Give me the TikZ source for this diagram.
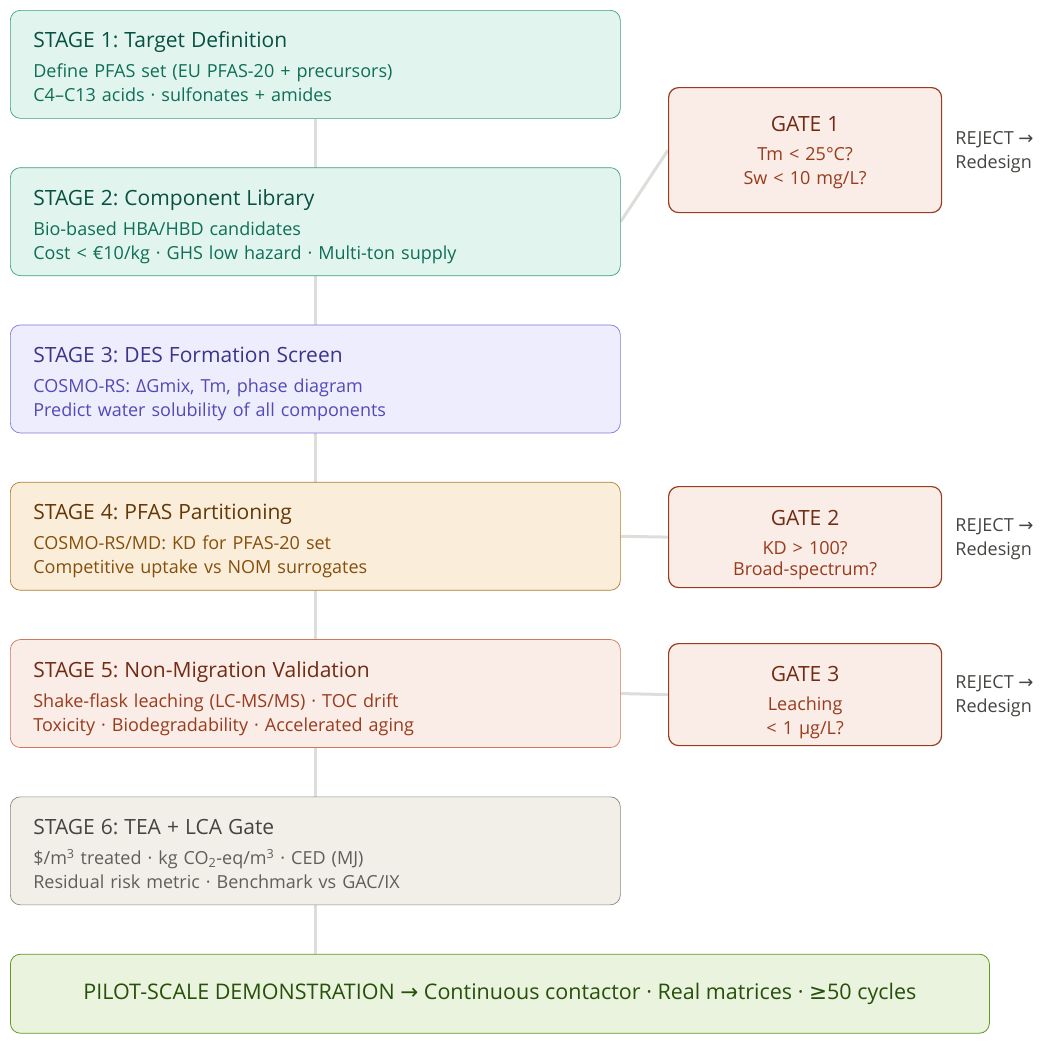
\documentclass[tikz,border=0pt]{standalone}
\usepackage{fontspec}
\setmainfont{Open Sans}
\newfontfamily\symfont{DejaVu Sans}
\usetikzlibrary{positioning,backgrounds}
\frenchspacing
\definecolor{tealfill}{HTML}{E1F5EE}
\definecolor{tealline}{HTML}{3E9E7E}
\definecolor{tealhead}{HTML}{085041}
\definecolor{tealtext}{HTML}{0F6E56}
\definecolor{purpfill}{HTML}{EEEDFE}
\definecolor{purpline}{HTML}{7F77DD}
\definecolor{purphead}{HTML}{3C3489}
\definecolor{purptext}{HTML}{534AB7}
\definecolor{ambfill}{HTML}{FAEEDA}
\definecolor{ambline}{HTML}{B07A30}
\definecolor{ambhead}{HTML}{633806}
\definecolor{ambtext}{HTML}{854F0B}
\definecolor{corfill}{HTML}{FAECE7}
\definecolor{corline}{HTML}{D0775C}
\definecolor{corhead}{HTML}{712B13}
\definecolor{cortext}{HTML}{993C1D}
\definecolor{grayfill}{HTML}{F1EFE8}
\definecolor{grayline}{HTML}{888780}
\definecolor{grayhead}{HTML}{444441}
\definecolor{graytext}{HTML}{5F5E5A}
\definecolor{grnfill}{HTML}{EAF3DE}
\definecolor{grnline}{HTML}{639922}
\definecolor{grnhead}{HTML}{27500A}
\definecolor{spinegray}{HTML}{DDDDDA}
\newcommand{\headfont}{\fontsize{21}{24}\selectfont}
\newcommand{\bodyfont}{\fontsize{18}{24}\selectfont}
\newcommand{\ra}{{\symfont\char"2192}}
\newcommand{\atleast}{{\symfont\char"2265}}
\tikzset{
  stage/.style={
    draw,
    line width=0.7pt,
    rounded corners=10pt,
    align=left,
    text width=564pt,
    inner xsep=23pt,
    inner ysep=0pt,
    text height=25pt,
    text depth=58pt,
    minimum height=108pt,
    font=\bodyfont
  },
  target/.style={stage, fill=tealfill, draw=tealline, text=tealtext},
  library/.style={stage, fill=tealfill, draw=tealline, text=tealtext},
  formation/.style={stage, fill=purpfill, draw=purpline, text=purptext},
  partition/.style={stage, fill=ambfill, draw=ambline, text=ambtext},
  migration/.style={stage, fill=corfill, draw=corline, text=cortext},
  costing/.style={stage, fill=grayfill, draw=grayline, text=graytext},
  gate/.style={
    draw=cortext,
    fill=corfill,
    text=cortext,
    line width=1.2pt,
    rounded corners=10pt,
    align=center,
    text width=273pt,
    inner xsep=0pt,
    inner ysep=0pt,
    font=\bodyfont
  },
  pilotbox/.style={
    draw=grnline,
    fill=grnfill,
    text=grnhead,
    line width=0.8pt,
    rounded corners=10pt,
    minimum width=979pt,
    minimum height=79pt,
    font=\fontsize{21.5}{24}\selectfont
  },
  reject/.style={
    anchor=west,
    align=left,
    text=grayhead,
    inner sep=0pt,
    yshift=-2pt,
    font=\bodyfont
  },
  spine/.style={draw=spinegray, line width=3pt},
  link/.style={draw=spinegray, line width=3pt}
}

\begin{document}
\begin{tikzpicture}[x=1pt, y=-1pt, node distance=48.6pt]
\useasboundingbox (0,0) rectangle (1042,1044);

% Stage column
\node[target, anchor=north west] (target) at (10,10)
  {{\color{tealhead}\headfont STAGE 1: Target Definition}\\[6pt]
   Define PFAS set (EU PFAS-20 + precursors)\\
   C4–C13 acids · sulfonates + amides};
\node[library, below=of target] (library)
  {{\color{tealhead}\headfont STAGE 2: Component Library}\\[6pt]
   Bio-based HBA/HBD candidates\\
   Cost < €10/kg · GHS low hazard · Multi-ton supply};
\node[formation, below=of library] (formation)
  {{\color{purphead}\headfont STAGE 3: DES Formation Screen}\\[6pt]
   COSMO-RS: ΔGmix, Tm, phase diagram\\
   Predict water solubility of all components};
\node[partition, below=of formation] (partition)
  {{\color{ambhead}\headfont STAGE 4: PFAS Partitioning}\\[6pt]
   COSMO-RS/MD: KD for PFAS-20 set\\
   Competitive uptake vs NOM surrogates};
\node[migration, below=of partition] (migration)
  {{\color{corhead}\headfont STAGE 5: Non-Migration Validation}\\[6pt]
   Shake-flask leaching (LC-MS/MS) · TOC drift\\
   Toxicity · Biodegradability · Accelerated aging};
\node[costing, below=of migration] (costing)
  {{\color{grayhead}\headfont STAGE 6: TEA + LCA Gate}\\[6pt]
   \$/m\textsuperscript{3} treated · kg CO\textsubscript{2}-eq/m\textsuperscript{3} · CED (MJ)\\
   Residual risk metric · Benchmark vs GAC/IX};
\node[pilotbox, below=of costing.south west, anchor=north west] (pilot)
  {PILOT-SCALE DEMONSTRATION \ra{} Continuous contactor · Real matrices · \atleast50 cycles};

% Gates
\node[gate, anchor=north west, minimum height=125pt, text height=20pt, text depth=58pt] (gateone) at (668,87)
  {{\color{corhead}\headfont GATE 1}\\[5pt]
   Tm < 25°C?\\
   Sw < 10 mg/L?};
\node[gate, anchor=north west, minimum height=101pt, text height=30pt, text depth=54pt] (gatetwo) at (668,486)
  {{\color{corhead}\headfont GATE 2}\\[5pt]
   KD > 100?\\[-3pt]
   Broad-spectrum?};
\node[gate, anchor=north west, minimum height=102pt, text height=30pt, text depth=57pt] (gatethree) at (668,643)
  {{\color{corhead}\headfont GATE 3}\\[5pt]
   Leaching\\
   < 1 µg/L?};

\node[reject, right=13pt of gateone.east] (rejectone) {REJECT \ra\\Redesign};
\node[reject, right=13pt of gatetwo.east] (rejecttwo) {REJECT \ra\\Redesign};
\node[reject, right=13pt of gatethree.east] (rejectthree) {REJECT \ra\\Redesign};

\begin{scope}[on background layer]
\draw[spine] (target.south) -- (target.south |- pilot.north);
\draw[link] (library.east) -- (gateone.west);
\draw[link] (partition.east) -- (gatetwo.west);
\draw[link] (migration.east) -- (gatethree.west);
\end{scope}

\end{tikzpicture}
\end{document}
